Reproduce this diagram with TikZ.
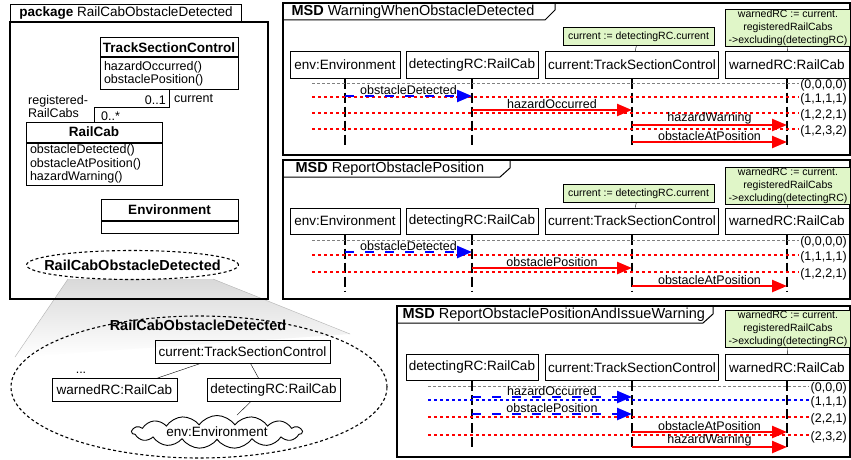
\documentclass[tikz,border=0pt]{standalone}
\usepackage{fontspec}
\setmainfont{Liberation Sans}
\usetikzlibrary{positioning,arrows.meta,shapes.geometric,shapes.symbols}
\definecolor{msdred}{RGB}{255,0,0}
\definecolor{msdblue}{RGB}{0,0,255}
\definecolor{condgreen}{RGB}{224,246,200}
\newcommand\headfont{\fontsize{13.5pt}{15pt}\selectfont}
\newcommand\msgfont{\fontsize{12.5pt}{14pt}\selectfont}
\newcommand\condfont{\fontsize{10.5pt}{13pt}\selectfont}
\newcommand\titlefont{\fontsize{14.5pt}{16pt}\selectfont}
\newcommand\opfont{\fontsize{12.5pt}{13.4pt}\selectfont}

\begin{document}
\begin{tikzpicture}[x=1pt, y=-1pt,
  classname/.style={draw, line width=1pt, font=\headfont\bfseries, inner sep=0pt},
  classops/.style={draw, line width=1pt, font=\opfont, align=left, inner xsep=4pt, inner ysep=0pt},
  lifehead/.style={draw, line width=1pt, font=\headfont, minimum height=26pt, inner xsep=2pt},
  lifeline/.style={line width=1.3pt, dash pattern=on 10pt off 4pt},
  condbox/.style={draw, fill=condgreen, font=\condfont, align=center, inner xsep=3pt, inner ysep=0.5pt},
  objbox/.style={draw, line width=0.9pt, font=\headfont, inner sep=3pt, minimum height=23pt},
  usecase/.style={draw, ellipse, line width=1.1pt, dash pattern=on 3pt off 2.5pt, inner sep=0pt},
  cutgray/.style={gray, line width=0.9pt, dash pattern=on 3pt off 2pt},
  cutred/.style={msdred, line width=1.1pt, dash pattern=on 3pt off 3pt},
  cutblue/.style={msdblue, line width=1.1pt, dash pattern=on 3pt off 3pt},
  cutlabel/.style={font=\msgfont, anchor=east, inner sep=1pt},
  hotmsg/.style={msdred, line width=2.4pt, -{Triangle[length=15pt,width=12pt]}},
  coldmsg/.style={msdblue, line width=2.4pt, dash pattern=on 9pt off 11pt, -{Triangle[length=15pt,width=12pt]}},
  msglabel/.style={font=\msgfont, text=black, midway, above, inner sep=0pt},
  frameline/.style={line width=1.8pt},
  tabline/.style={line width=1pt},
]
\useasboundingbox (0,0) rectangle (851,460);
\fill[white] (0,0) rectangle (851,460);

% Zoom cone from the use case to its detail
\shade[top color=gray!30, bottom color=white] (68,279) -- (213,279) -- (350,334) -- (15,357) -- cycle;
\draw[gray!60] (68,279) -- (15,357);
\draw[gray!60] (213,279) -- (350,334);

% Package
\draw[frameline] (10,22) rectangle (268,299);
\node[draw, tabline, anchor=south west, minimum width=231pt, minimum height=17pt, inner sep=0pt, font=\headfont] (pkgtab) at (10,22) {\textbf{package} RailCabObstacleDetected};

% Classes
\node[classname, minimum width=138pt, minimum height=19pt] (tsc) at (169,47.5) {TrackSectionControl};
\node[classops, text width=130pt, minimum height=31pt, below=0pt of tsc] (tscops) {hazardOccurred()\\obstaclePosition()};

\node[classname, minimum width=136pt, minimum height=20pt] (rc) at (94,132) {RailCab};
\node[classops, text width=128pt, minimum height=42pt, below=0pt of rc] (rcops) {obstacleDetected()\\obstacleAtPosition()\\hazardWarning()};

\node[classname, minimum width=137pt, minimum height=21pt] (envc) at (169.5,209.5) {Environment};
\node[classops, text width=129pt, minimum height=12pt, below=0pt of envc] (envcops) {};

% Association
\draw[line width=0.9pt] (tscops.south) -- ++(0,18) -| (rc.north);
\node[font=\opfont, anchor=south east, inner sep=1pt] (multcur) at (167,106) {0..1};
\node[font=\opfont, anchor=west, inner sep=1pt] (rolecur) at (173,99) {current};
\node[font=\opfont, align=left, anchor=north west, inner sep=0pt] (rolereg) at (28,95) {registered-\\RailCabs};
\node[font=\opfont, anchor=south west, inner sep=1pt] (multreg) at (100,122) {0..*};

% Use case
\node[usecase, minimum width=212pt, minimum height=29pt] (ucase) at (132.5,265) {};
\node[font=\titlefont\bfseries] (ucaselbl) at (ucase.center) {RailCabObstacleDetected};

% Use case detail
\node[usecase, minimum width=376pt, minimum height=142pt] (ucbig) at (199,387) {};
\node[font=\titlefont\bfseries] (ucbiglbl) at (198,325) {RailCabObstacleDetected};
\node[objbox, minimum width=175pt] (curobj) at (242.5,351.5) {current:TrackSectionControl};
\node[objbox, minimum width=125pt] (warnobj) at (114.5,390) {warnedRC:RailCab};
\node[objbox, minimum width=133pt] (detobj) at (273.5,390) {detectingRC:RailCab};
\node[cloud, draw, line width=0.9pt, cloud puffs=15, cloud puff arc=110, aspect=8, inner sep=0pt, minimum width=170pt, minimum height=22pt, font=\headfont] (envobj) at (217,432) {env:Environment};
\node[font=\opfont, inner sep=0pt] (moreobj) at (81,373) {...};
\draw ([xshift=-42pt]curobj.south) -- ([xshift=43pt]warnobj.north);
\draw ([xshift=8pt]curobj.south) -- ([xshift=-15pt]detobj.north);
\draw ([xshift=-23pt]detobj.south) -- ([xshift=20pt]envobj.north);

% MSD frames
\draw[frameline] (283,3) rectangle (850,155);
\draw[tabline] (283,20) -- (545,20) -- (555,10) -- (555,3);
\node[font=\titlefont, anchor=west] (msdA) at (288,11.5) {\textbf{MSD} WarningWhenObstacleDetected};

\draw[frameline] (283,160) rectangle (850,299);
\draw[tabline] (283,177) -- (500,177) -- (510,168) -- (510,160);
\node[font=\titlefont, anchor=west] (msdB) at (292,168.5) {\textbf{MSD} ReportObstaclePosition};

\draw[frameline] (397,306) rectangle (850,457);
\draw[tabline] (397,323) -- (703,323) -- (713,314) -- (713,306);
\node[font=\titlefont, anchor=west] (msdC) at (399,314.5) {\textbf{MSD} ReportObstaclePositionAndIssueWarning};

% Lifeline heads
\foreach \k/\y in {1/65, 2/221}
  \node[lifehead, minimum width=110pt] (env\k) at (345,\y) {env:Environment};
\foreach \k/\y in {1/65, 2/221, 3/367.5} {
  \node[lifehead, minimum width=132pt] (det\k) at (472,\y) {detectingRC:RailCab};
  \node[lifehead, minimum width=173pt] (cur\k) at (632,\y) {current:TrackSectionControl};
  \node[lifehead, minimum width=124pt] (warn\k) at (787,\y) {warnedRC:RailCab};
}

% Conditions
\foreach \k/\y in {1/36.5, 2/193.5} {
  \node[condbox, minimum width=151pt, minimum height=18pt] (curcond\k) at (638.5,\y) {current := detectingRC.current};
  \draw (curcond\k) -- (cur\k);
}
\foreach \k/\y in {1/28, 2/185.5, 3/329} {
  \node[condbox] (warncond\k) at (788,\y) {warnedRC := current.\\registeredRailCabs\\->excluding(detectingRC)};
  \draw (warncond\k) -- (warn\k);
}

% Lifelines
\foreach \n/\e in {env1/147, det1/147, cur1/147, warn1/147, env2/292, det2/292, cur2/292, warn2/292, det3/450, cur3/450, warn3/450}
  \draw[lifeline] (\n) -- (\n |- 0,\e);

% Cuts
\foreach \y/\t/\c [count=\i] in {83/{(0,0,0,0)}/cutgray, 97/{(1,1,1,1)}/cutred, 113/{(1,2,2,1)}/cutred, 129/{(1,2,3,2)}/cutred} {
  \node[cutlabel] (cutA\i) at (848,\y+2) {\t};
  \draw[\c] (312,\y) -- (cutA\i.west |- 0,\y);
}
\foreach \y/\t/\c [count=\i] in {240/{(0,0,0,0)}/cutgray, 255/{(1,1,1,1)}/cutred, 272/{(1,2,2,1)}/cutred} {
  \node[cutlabel] (cutB\i) at (848,\y+2) {\t};
  \draw[\c] (312,\y) -- (cutB\i.west |- 0,\y);
}
\foreach \y/\t/\c [count=\i] in {386/{(0,0,0)}/cutgray, 400/{(1,1,1)}/cutblue, 417/{(2,2,1)}/cutred, 435/{(2,3,2)}/cutred} {
  \node[cutlabel] (cutC\i) at (848,\y+2) {\t};
  \draw[\c] (428,\y) -- (cutC\i.west |- 0,\y);
}

% Messages
\draw[coldmsg] (env1 |- 0,96) -- node[msglabel] (msgA1) {obstacleDetected} (det1 |- 0,96);
\draw[hotmsg] (det1 |- 0,110) -- node[msglabel] (msgA2) {hazardOccurred} (cur1 |- 0,110);
\draw[hotmsg] (cur1 |- 0,125) -- node[msglabel] (msgA3) {hazardWarning} (warn1 |- 0,125);
\draw[hotmsg] (cur1 |- 0,142) -- node[msglabel] (msgA4) {obstacleAtPosition} (warn1 |- 0,142);

\draw[coldmsg] (env2 |- 0,252) -- node[msglabel] (msgB1) {obstacleDetected} (det2 |- 0,252);
\draw[hotmsg] (det2 |- 0,268) -- node[msglabel] (msgB2) {obstaclePosition} (cur2 |- 0,268);
\draw[hotmsg] (cur2 |- 0,286) -- node[msglabel] (msgB3) {obstacleAtPosition} (warn2 |- 0,286);

\draw[coldmsg] (det3 |- 0,397) -- node[msglabel] (msgC1) {hazardOccurred} (cur3 |- 0,397);
\draw[coldmsg] (det3 |- 0,414) -- node[msglabel] (msgC2) {obstaclePosition} (cur3 |- 0,414);
\draw[hotmsg] (cur3 |- 0,432) -- node[msglabel] (msgC3) {obstacleAtPosition} (warn3 |- 0,432);
\draw[hotmsg] (cur3 |- 0,447) -- node[msglabel] (msgC4) {hazardWarning} (warn3 |- 0,447);
\end{tikzpicture}
\end{document}
